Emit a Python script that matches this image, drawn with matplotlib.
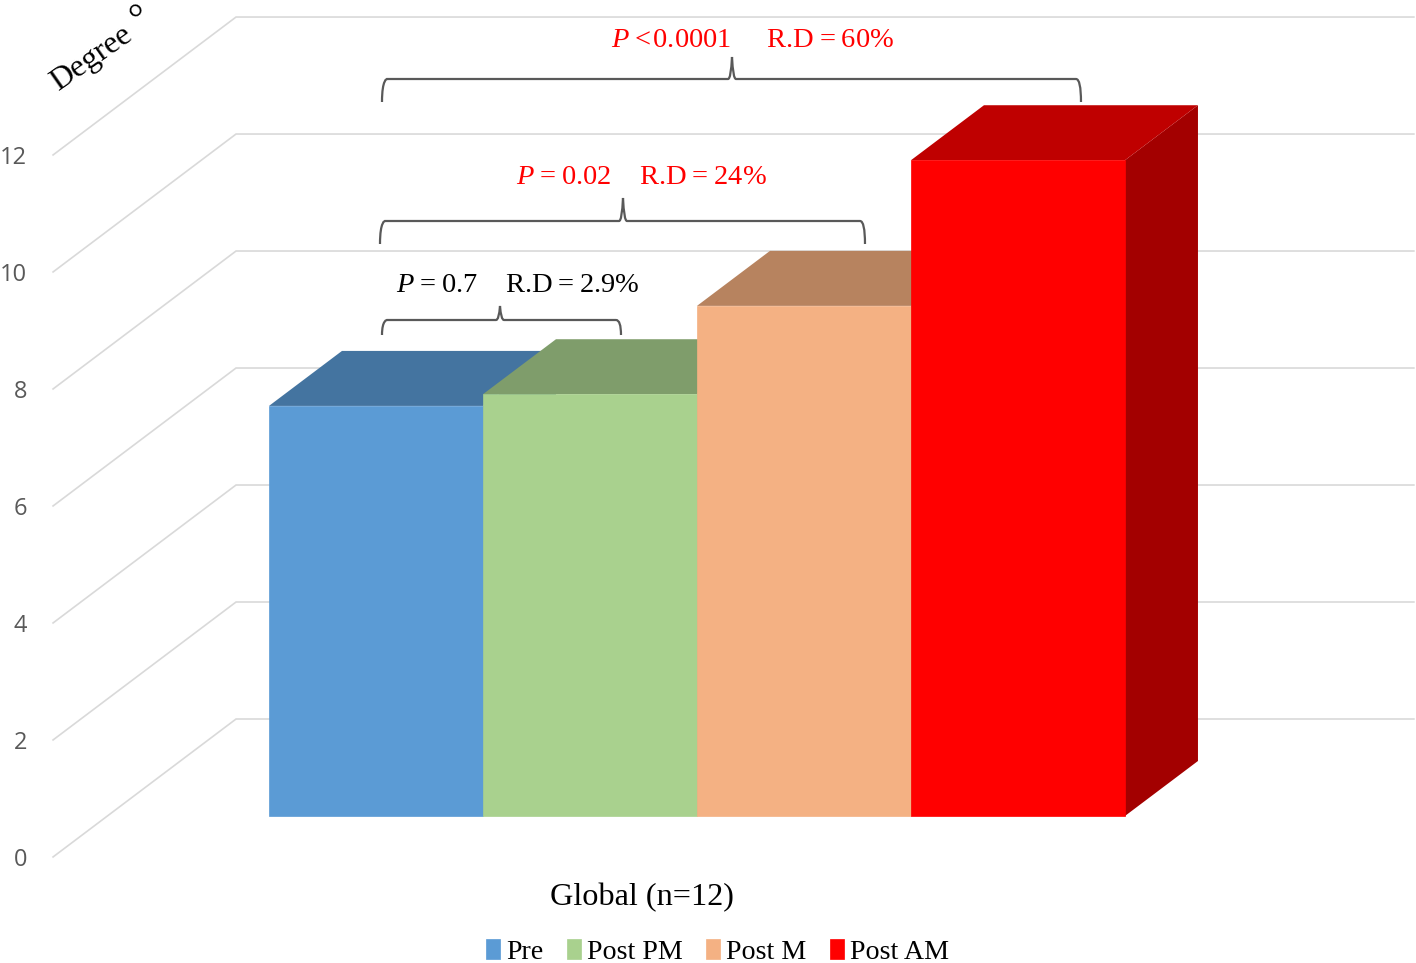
import matplotlib
matplotlib.use("Agg")
from matplotlib import pyplot as plt
from matplotlib.path import Path
from matplotlib.patches import PathPatch, Polygon
from matplotlib.transforms import Affine2D

plt.rcParams['font.family'] = ['Liberation Serif', 'DejaVu Sans']
plt.rcParams['mathtext.fontset'] = 'custom'
plt.rcParams['mathtext.rm'] = 'Liberation Serif'
plt.rcParams['mathtext.it'] = 'Liberation Serif:italic'

labels = ['Pre', 'Post PM', 'Post M', 'Post AM']
values = [7.01, 7.21, 8.72, 11.21]
front_colors = ['#5B9BD5', '#A9D18E', '#F4B183', '#FF0000']
top_colors = ['#4474A0', '#7F9D6B', '#B7835F', '#BF0000']
side_colors = ['#365F85', '#66804F', '#93694C', '#A30000']
y_ticks = [0, 2, 4, 6, 8, 10, 12]

# one bar is 214 px wide, one unit of value is 58.5 px high
dx, dy = 73 / 214, 55 / 58.5
wall_left, wall_back, wall_right = -1.509, -0.654, 4.85
wall_low, wall_high = -0.70, 1.658

fig = plt.figure(figsize=(14.16, 9.63), dpi=100)
ax = fig.add_axes([0, 0, 1, 1])
ax.set_xlim(-1.757, 4.86)
ax.set_ylim(-2.513, 13.949)
ax.axis('off')

# picture pixels, y going down, for the hand placed notes
px = Affine2D().scale(1, -1).translate(0, 963)

for v in y_ticks:
    ax.plot([wall_left, wall_back, wall_right], [v + wall_low, v + wall_high, v + wall_high],
            color='#D9D9D9', lw=1.2, zorder=1, solid_joinstyle='miter')
    ax.text(-1.63, v + wall_low - 0.055, str(v), family='Open Sans', fontsize=17, color='#595959',
            ha='right', va='center')

for i, v in enumerate(values):
    left, right = i - 0.5, i + 0.5
    z = 2 + i
    ax.add_patch(Polygon([(right, 0), (right + dx, dy), (right + dx, v + dy), (right, v)],
                         color=side_colors[i], lw=0, zorder=z))
    ax.add_patch(Polygon([(left, v), (left + dx, v + dy), (right + dx, v + dy), (right, v)],
                         color=top_colors[i], lw=0, zorder=z))
    ax.bar(i, v, width=1, color=front_colors[i], edgecolor=front_colors[i], lw=0.5,
           label=labels[i], zorder=z + 0.5)


def brace(x0, x1, y, tip_x, tip_y, end_y):
    r = 5
    verts = [(x0, end_y), (x0, y), (x0 + r, y), (x0 + r, y),
             (tip_x - 4, y), (tip_x - 1, y), (tip_x, tip_y),
             (tip_x + 1, y), (tip_x + 4, y),
             (x1 - r, y), (x1, y), (x1, end_y)]
    codes = [Path.MOVETO, Path.CURVE4, Path.CURVE4, Path.CURVE4,
             Path.LINETO, Path.CURVE3, Path.CURVE3,
             Path.CURVE3, Path.CURVE3,
             Path.LINETO, Path.CURVE3, Path.CURVE3]
    ax.add_patch(PathPatch(Path(verts, codes), fc='none', ec='#595959', lw=1.6,
                           transform=px, zorder=10))


brace(382, 1081, 79, 732, 57, 102)
brace(380, 865, 221, 623, 198, 244)
brace(382, 621, 320, 500, 306, 335)

note = dict(transform=px, fontsize=20.5, ha='left', va='baseline', zorder=11)
ax.text(611, 47, '$\\mathit{P}$\u2009<\u200a0.0001     R.D\u2009=\u200960%', color='#FF0000', **note)
ax.text(516, 184, '$\\mathit{P}$\u2009=\u20090.02    R.D\u2009=\u200924%', color='#FF0000', **note)
ax.text(396, 292, '$\\mathit{P}$\u2009=\u20090.7    R.D\u2009=\u20092.9%', color='black', **note)

ax.text(58, 91, 'Degree', transform=px, fontsize=23, rotation=35, rotation_mode='anchor',
        ha='left', va='baseline')
ax.text(147, 27, '°', transform=px, fontsize=28, rotation=35, rotation_mode='anchor',
        ha='center', va='baseline')

ax.text(641.5, 905, 'Global (n=12)', transform=px, fontsize=23.2, ha='center', va='baseline')

ax.legend(loc='center', bbox_to_anchor=(717.5 / 1416, 1 - 952 / 963), ncol=4, frameon=False,
          fontsize=20.2, handlelength=0.5, handleheight=0.7, handletextpad=0.2,
          columnspacing=0.85, borderpad=0, labelspacing=0)

plt.savefig("out.png", dpi=100)
